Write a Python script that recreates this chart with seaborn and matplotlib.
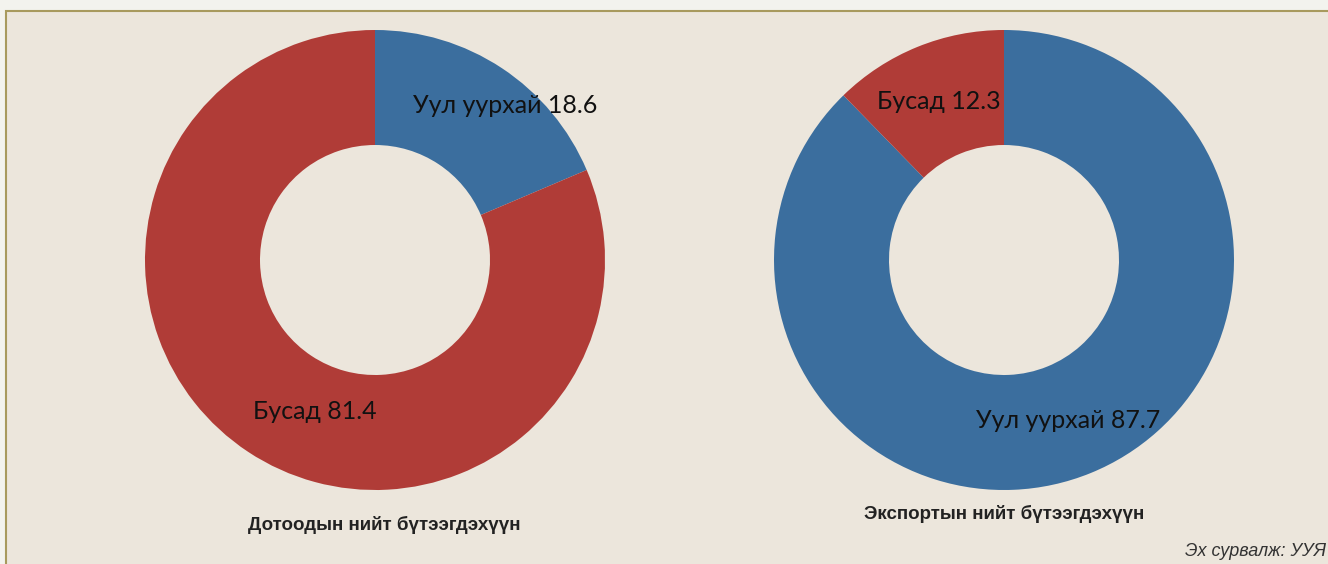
import matplotlib.pyplot as plt
import matplotlib.patches as mpatches
import seaborn as sns

# Data
sectors = ['Уул уурхай', 'Бусад']
domestic = [18.6, 81.4]
export = [87.7, 12.3]
titles = ['Дотоодын нийт бүтээгдэхүүн', 'Экспортын нийт бүтээгдэхүүн']
source = 'Эх сурвалж: УУЯ'

sns.set_theme(style='white')
plt.rcParams['font.family'] = ['Lato', 'DejaVu Sans']
colors = ['#3b6e9e', '#b03c37']

fig = plt.figure(figsize=(13.28, 5.64), dpi=100)
fig.patch.set_facecolor('#f3f3ee')
fig.patches.append(mpatches.Rectangle((6 / 1328, -0.05), 1.0, 1 - 11 / 564 + 0.05,
                                      transform=fig.transFigure, facecolor='#ece6dc',
                                      edgecolor='#a89a5e', linewidth=1.5, zorder=-5))

W, H = 1328, 564
centers = [(375, 260), (1004, 260)]
R = 230
# label offsets in units of the outer radius
label_pos = [[(0.565, 0.67), (-0.26, -0.657)],
             [(0.278, -0.696), (-0.283, 0.687)]]
title_y = [525, 514]

for i, vals in enumerate([domestic, export]):
    cx, cy = centers[i]
    ax = fig.add_axes([(cx - R) / W, (H - cy - R) / H, 2 * R / W, 2 * R / H])
    ax.set_facecolor('none')
    ax.pie(vals, colors=colors, startangle=90, counterclock=False, radius=1,
           wedgeprops=dict(width=0.5, edgecolor='none'))
    ax.set_xlim(-1, 1)
    ax.set_ylim(-1, 1)
    ax.set_aspect('equal')
    ax.axis('off')
    for j, name in enumerate(sectors):
        x, y = label_pos[i][j]
        ax.text(x, y, f'{name} {vals[j]}', ha='center', va='center',
                fontsize=18, color='#111111')
    fig.text(cx / W + (9 / W if i == 0 else 0), 1 - title_y[i] / H, titles[i],
             ha='center', va='center', fontsize=13.5, fontweight='bold',
             family=['Liberation Sans', 'DejaVu Sans'], color='#222222')

fig.text(1185 / W, 1 - 552 / H, source, ha='left', va='center', fontsize=13,
         style='italic', family=['Liberation Sans', 'DejaVu Sans'], color='#333333')

fig.savefig('out.png', dpi=100, facecolor=fig.get_facecolor())
